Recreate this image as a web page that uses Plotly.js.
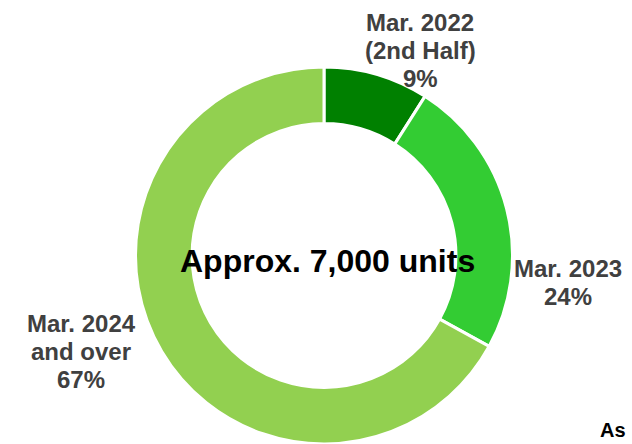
<!DOCTYPE html>
<html>
<head>
<meta charset="utf-8">
<script src="https://cdn.plot.ly/plotly-3.0.1.min.js"></script>
<style>html,body{margin:0;padding:0;background:#fff;}#chart{width:632px;height:444px;}</style>
</head>
<body>
<div id="chart"></div>
<script>
// ---- data ----
var categories = ['Mar. 2022 (2nd Half)', 'Mar. 2023', 'Mar. 2024 and over'];
var labelLines = [['Mar. 2022', '(2nd Half)'], ['Mar. 2023'], ['Mar. 2024', 'and over']];
var shares = [9, 24, 67];
var centerText = 'Approx. 7,000 units';
var footText = 'As';

// ---- styling / layout ----
var colors = ['#008000', '#33CC33', '#92D050'];
var W = 632, H = 444;
var M = {l: 135, r: 119, t: 67, b: 0};
var pw = W - M.l - M.r, ph = H - M.t - M.b;
function px(x) { return (x - M.l) / pw; }
function py(y) { return (H - M.b - y) / ph; }

// label anchor (center x, first baseline y) per slice
var labelPos = [[420, 31], [568, 277], [81, 332]];
var lineGap = 28, labelSize = 24;

var annotations = [];
for (var i = 0; i < categories.length; i++) {
  var lines = labelLines[i].concat([shares[i] + '%']);
  for (var j = 0; j < lines.length; j++) {
    var base = labelPos[i][1] + j * lineGap;
    annotations.push({
      xref: 'paper', yref: 'paper',
      x: px(labelPos[i][0]), y: py(base - 0.36 * labelSize),
      xanchor: 'center', yanchor: 'middle',
      text: lines[j], showarrow: false,
      font: {family: 'Liberation Sans, Arial, sans-serif', size: labelSize, color: '#404040', weight: 'bold'}
    });
  }
}
annotations.push({
  xref: 'paper', yref: 'paper', x: px(327), y: py(273 - 0.36 * 32),
  xanchor: 'center', yanchor: 'middle', text: '<b>' + centerText + '</b>', showarrow: false,
  font: {family: 'Liberation Sans, Arial, sans-serif', size: 32, color: '#000000'}
});
annotations.push({
  xref: 'paper', yref: 'paper', x: px(598), y: py(437 - 0.36 * 20),
  xanchor: 'left', yanchor: 'middle', text: '<b>' + footText + '</b>', showarrow: false,
  font: {family: 'Liberation Sans, Arial, sans-serif', size: 20, color: '#000000'}
});

var trace = {
  type: 'pie',
  labels: categories,
  values: shares,
  hole: 0.70,
  sort: false,
  direction: 'clockwise',
  rotation: 0,
  textinfo: 'none',
  hoverinfo: 'label+percent',
  marker: {colors: colors, line: {color: '#ffffff', width: 3}},
  showlegend: false
};

var layout = {
  width: W, height: H,
  margin: M,
  paper_bgcolor: '#ffffff',
  plot_bgcolor: '#ffffff',
  showlegend: false,
  annotations: annotations
};

Plotly.newPlot('chart', [trace], layout, {displayModeBar: false, staticPlot: true});
</script>
</body>
</html>
